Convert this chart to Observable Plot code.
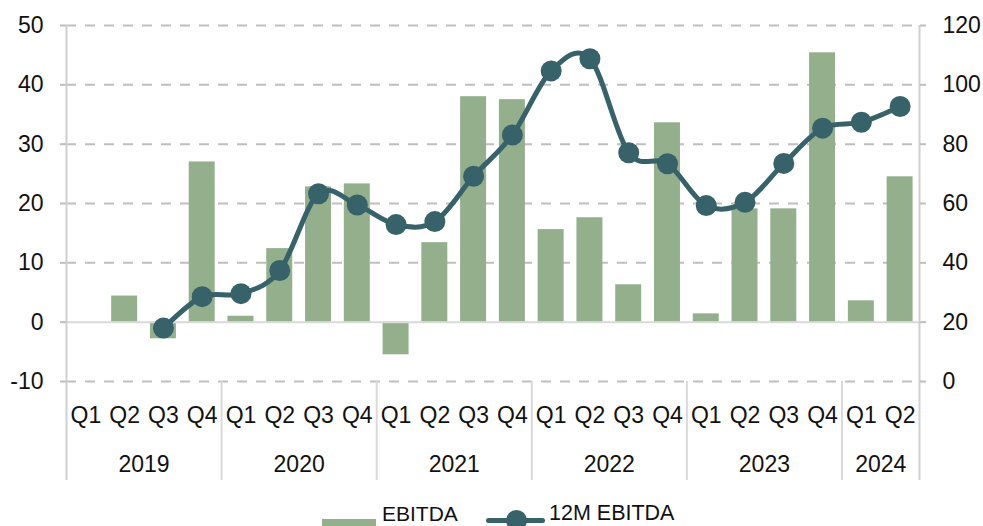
<!DOCTYPE html>
<html><head><meta charset="utf-8">
<script src="https://cdn.jsdelivr.net/npm/d3@7"></script>
<script src="https://cdn.jsdelivr.net/npm/@observablehq/plot@0.6"></script>
<style>
body{margin:0;background:#fff;font-family:"Liberation Sans",Arial,sans-serif;}
#wrap{position:relative;width:983px;height:526px;overflow:hidden;}
#legend{position:absolute;left:0;top:0;width:983px;height:526px;pointer-events:none;}
#legend .sw{position:absolute;}
#legend .lab{position:absolute;font-size:21px;color:#111;line-height:1;}
</style></head><body>
<div id="wrap"><div id="chart"></div>
<div id="legend">
  <div class="sw" style="left:322px;top:519px;width:54px;height:20px;background:#93AF8C"></div>
  <div class="lab" style="left:382px;top:503px">EBITDA</div>
  <div class="sw" style="left:486px;top:518px;width:59px;height:5px;border-radius:3px;background:#376269"></div>
  <div class="sw" style="left:506px;top:510px;width:21px;height:21px;border-radius:50%;background:#376269"></div>
  <div class="lab" style="left:549px;top:503px;font-size:21.5px">12M EBITDA</div>
</div></div>
<script>
const years = ["2019","2020","2021","2022","2023","2024"];
const quartersPerYear = [4,4,4,4,4,2];
const quarterLabels = ["Q1","Q2","Q3","Q4"];
const ebitda = [0, 4.4, -2.8, 27.0, 1.0, 12.4, 22.8, 23.3, -5.5, 13.4, 38.0, 37.5, 15.6, 17.6, 6.3, 33.6, 1.4, 19.1, 19.1, 45.4, 3.6, 24.5];
const ebitda12m = [null, null, 18.0, 28.6, 29.6, 37.4, 63.3, 59.5, 52.9, 53.9, 69.2, 83.1, 104.7, 108.8, 77.1, 73.4, 59.3, 60.4, 73.5, 85.4, 87.4, 92.7];
const leftTicks = [-10, 0, 10, 20, 30, 40, 50];
const rightTicks = [0, 20, 40, 60, 80, 100, 120];

const W = 983, H = 500, mL = 66, mR = 64, mT = 25, mB = 119;
const step = (W - mL - mR) / ebitda.length;
const toLeft = r => r / 2 - 10;
const fs = 23;

const rows = [];
years.forEach((y, yi) => {
  for (let q = 0; q < quartersPerYear[yi]; q++) rows.push({year: y, q: quarterLabels[q], key: y + " " + quarterLabels[q]});
});
rows.forEach((r, i) => { r.ebitda = ebitda[i]; r.m12 = ebitda12m[i] == null ? null : toLeft(ebitda12m[i]); });
const keys = rows.map(r => r.key);
const yearStarts = years.map(y => rows.find(r => r.year === y).key);
const yearMid = years.map((y, yi) => ({year: y, key: y + " " + quarterLabels[quartersPerYear[yi] / 2 - 1]}));
const font = "Liberation Sans, Arial, sans-serif";

const chart = Plot.plot({
  width: W, height: H, marginLeft: mL, marginRight: mR, marginTop: mT, marginBottom: mB,
  style: {fontFamily: font, background: "#fff", overflow: "visible"},
  x: {domain: keys, paddingInner: 0.33, paddingOuter: 0.165, round: false, axis: null},
  y: {domain: [-10, 50], axis: null},
  marks: [
    Plot.ruleY(leftTicks.filter(d => d !== 0), {stroke: "#BFBFBF", strokeWidth: 2, strokeDasharray: "10,9"}),
    Plot.barY(rows, {x: "key", y: "ebitda", fill: "#93AF8C"}),
    Plot.ruleY([0], {stroke: "#D9D9D9", strokeWidth: 2}),
    Plot.ruleX([keys[0]], {dx: -step / 2, stroke: "#D0D0D0", strokeWidth: 2, insetBottom: -99}),
    Plot.ruleX([keys[keys.length - 1]], {dx: step / 2, stroke: "#D0D0D0", strokeWidth: 2, insetBottom: -99}),
    Plot.ruleX(yearStarts.slice(1), {dx: -step / 2, stroke: "#D9D9D9", strokeWidth: 2, insetTop: H - mT - mB, insetBottom: -99}),
    Plot.axisY({anchor: "left", ticks: leftTicks, tickFormat: d => String(d), tickSize: 6, tickPadding: 17, fontSize: fs, stroke: "#BFBFBF", strokeWidth: 2, color: "#111", label: null}),
    Plot.axisY({anchor: "right", ticks: rightTicks.map(toLeft), tickFormat: d => String(Math.round((d + 10) * 2)), tickSize: 6, tickPadding: 17, fontSize: fs, stroke: "#BFBFBF", strokeWidth: 2, color: "#111", label: null}),
    Plot.text(rows, {x: "key", text: "q", frameAnchor: "bottom", dy: 34, fontSize: fs, fill: "#111", lineAnchor: "middle"}),
    Plot.text(yearMid, {x: "key", text: "year", frameAnchor: "bottom", dx: step / 2, dy: 83, fontSize: fs, fill: "#111", lineAnchor: "middle"}),
    Plot.line(rows, {x: "key", y: "m12", stroke: "#376269", strokeWidth: 5, curve: "cardinal"}),
    Plot.dot(rows, {x: "key", y: "m12", r: 10.5, fill: "#376269", stroke: "none"})
  ]
});
document.getElementById("chart").appendChild(chart);
</script>
</body></html>
